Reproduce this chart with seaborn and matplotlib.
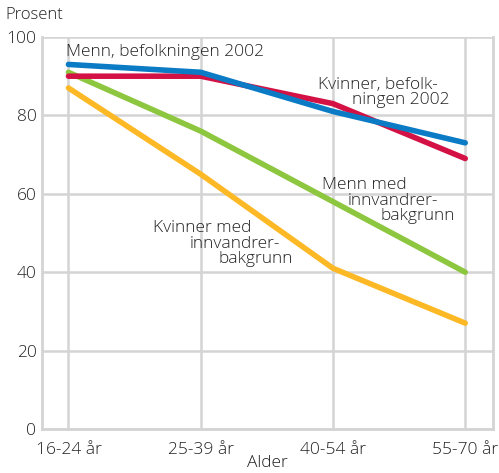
import matplotlib
matplotlib.use("Agg")
import matplotlib.pyplot as plt
import seaborn as sns
import pandas as pd

ages = ["16-24 år", "25-39 år", "40-54 år", "55-70 år"]
menn_bef = [93, 91, 81, 73]
kvinner_bef = [90, 90, 83, 69]
menn_innv = [91, 76, 58, 40]
kvinner_innv = [87, 65, 41, 27]

series = {
    "Menn, befolkningen 2002": menn_bef,
    "Kvinner, befolkningen 2002": kvinner_bef,
    "Menn med innvandrerbakgrunn": menn_innv,
    "Kvinner med innvandrerbakgrunn": kvinner_innv,
}
palette = {
    "Kvinner med innvandrerbakgrunn": "#FDB825",
    "Menn med innvandrerbakgrunn": "#8DC63F",
    "Kvinner, befolkningen 2002": "#D31145",
    "Menn, befolkningen 2002": "#0A7BC4",
}

rows = []
for name, vals in series.items():
    for i, v in enumerate(vals):
        rows.append({"pos": i, "alder": ages[i], "gruppe": name, "prosent": v})
df = pd.DataFrame(rows)

sns.set_theme(style="white")
plt.rcParams["font.family"] = ["Open Sans", "DejaVu Sans"]
plt.rcParams["font.weight"] = "light"
text_color = "#222222"
grid_color = "#D4D4D4"
fs = 12.5

fig = plt.figure(figsize=(4.99, 4.73), dpi=100)
ax = fig.add_axes([42 / 499, 1 - 429 / 473, (493 - 42) / 499, (429 - 37) / 473])

order = ["Kvinner med innvandrerbakgrunn", "Menn med innvandrerbakgrunn",
         "Kvinner, befolkningen 2002", "Menn, befolkningen 2002"]
sns.lineplot(data=df, x="pos", y="prosent", hue="gruppe", hue_order=order,
             palette=palette, linewidth=4, legend=False, ax=ax,
             solid_capstyle="round", solid_joinstyle="round")

ax.set_xlim(-0.2, 3.21)
ax.set_ylim(0, 100)
ax.set_xticks(range(len(ages)))
ax.set_xticklabels(ages)
ax.set_yticks([0, 20, 40, 60, 80, 100])
ax.grid(True, color=grid_color, linewidth=1.8)
ax.set_axisbelow(True)
for side in ["left", "bottom", "right", "top"]:
    ax.spines[side].set_color(grid_color)
    ax.spines[side].set_linewidth(2)
ax.spines["top"].set_visible(False)
ax.tick_params(axis="both", length=0, labelsize=fs, colors=text_color)
ax.tick_params(axis="x", pad=9)
ax.tick_params(axis="y", pad=4)
ax.set_xlabel("Alder", fontsize=fs, color=text_color, labelpad=-2,
              fontweight="light")
ax.set_ylabel("")

fig.text(5 / 499, 1 - 15 / 473, "Prosent", fontsize=12, color=text_color,
         ha="left", va="center")

def label(x, y, s, ha="left"):
    ax.annotate(s, xy=(x / 499, 1 - y / 473), xycoords="figure fraction",
                fontsize=fs, color=text_color, ha=ha, va="center")

label(66, 52, "Menn, befolkningen 2002")
label(438, 85, "Kvinner, befolk-", ha="right")
label(450, 100, "ningen 2002", ha="right")
label(322, 185, "Menn med")
label(348, 201, "innvandrer-")
label(380, 216, "bakgrunn")
label(153, 228, "Kvinner med")
label(190, 244, "innvandrer-")
label(218, 259, "bakgrunn")

fig.savefig("out.png", dpi=100)
